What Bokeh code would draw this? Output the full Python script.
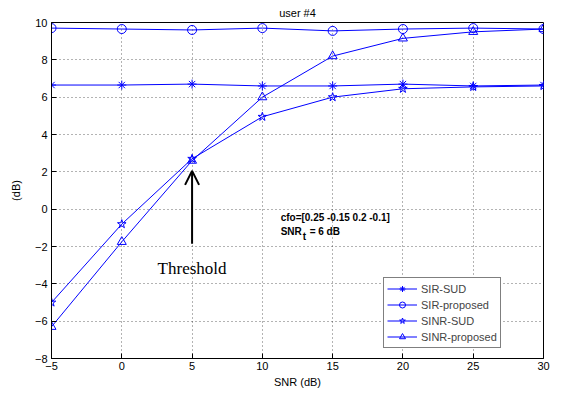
from bokeh.plotting import figure
from bokeh.models import FixedTicker, Legend, LegendItem, Label, Arrow, OpenHead, Range1d
from bokeh.embed import file_html
from bokeh.resources import INLINE

snr = [-5, 0, 5, 10, 15, 20, 25, 30]
sir_sud = [6.65, 6.65, 6.7, 6.6, 6.6, 6.7, 6.6, 6.65]
sir_proposed = [9.7, 9.65, 9.6, 9.7, 9.55, 9.65, 9.7, 9.65]
sinr_sud = [-5.0, -0.8, 2.7, 4.95, 6.0, 6.45, 6.55, 6.6]
sinr_proposed = [-6.3, -1.75, 2.6, 6.0, 8.2, 9.15, 9.5, 9.65]
series_names = ["SIR-SUD", "SIR-proposed", "SINR-SUD", "SINR-proposed"]
x_ticks = [-5, 0, 5, 10, 15, 20, 25, 30]
y_ticks = [-8, -6, -4, -2, 0, 2, 4, 6, 8, 10]

FONT = "Liberation Sans"

p = figure(width=566, height=397, output_backend="svg", toolbar_location=None,
           x_range=Range1d(-5, 30), y_range=Range1d(-8, 10),
           min_border_left=51, min_border_right=23, min_border_bottom=39, min_border_top=5)
p.title.text = "user #4"
p.title.align = "center"
p.title.text_font = FONT
p.title.text_font_size = "11px"
p.title.text_font_style = "normal"
p.title.text_color = "black"
p.title.standoff = 8

for ax in (p.xaxis[0], p.yaxis[0]):
    ax.axis_line_color = "black"
    ax.major_tick_in = 5
    ax.major_tick_out = 0
    ax.minor_tick_line_color = None
    ax.major_tick_line_color = "black"
    ax.major_label_text_font = FONT
    ax.major_label_text_font_size = "11px"
    ax.major_label_text_color = "black"
    ax.axis_label_text_font = FONT
    ax.axis_label_text_font_size = "11px"
    ax.axis_label_text_font_style = "normal"
    ax.axis_label_text_color = "black"

p.xaxis.ticker = FixedTicker(ticks=x_ticks)
p.yaxis.ticker = FixedTicker(ticks=y_ticks)
p.xaxis.axis_label = "SNR (dB)"
p.yaxis.axis_label = "(dB)"
p.xaxis.major_label_standoff = 3
p.xaxis.axis_label_standoff = 3
p.yaxis.major_label_standoff = 4
p.yaxis.axis_label_standoff = 10

p.grid.grid_line_color = "black"
p.grid.grid_line_alpha = 0.6
p.grid.grid_line_dash = "1 3"
p.outline_line_color = "black"
p.outline_line_alpha = 1
p.background_fill_color = "white"
p.border_fill_color = "white"

color = "#0000ff"
markers = ["asterisk", "circle", "star", "triangle"]
data = [sir_sud, sir_proposed, sinr_sud, sinr_proposed]
items = []
for name, ys, m in zip(series_names, data, markers):
    l = p.line(snr, ys, line_color=color, line_width=1)
    s = p.scatter(snr, ys, marker=m, size=9, line_color=color, fill_color=None, line_width=1)
    items.append(LegendItem(label=name, renderers=[l, s]))

legend = Legend(items=items, location=(332, 10), border_line_color="black",
                label_text_font=FONT, label_text_font_size="11px",
                glyph_width=30, glyph_height=15, label_height=15, spacing=1,
                padding=3, margin=0, label_standoff=4, background_fill_alpha=1)
p.add_layout(legend, "center")

p.add_layout(Arrow(end=OpenHead(size=14, line_width=2, line_color="black"),
                   x_start=5, y_start=-1.85, x_end=5, y_end=2.05,
                   line_width=2, line_color="black"))
p.add_layout(Label(x=5, y=-3.2, text="Threshold", text_font="Liberation Serif",
                   text_font_size="17px", text_align="center", text_baseline="middle",
                   text_color="black"))
TX = 11.3
p.add_layout(Label(x=TX, y=-0.45, text="cfo=[0.25 -0.15 0.2 -0.1]", text_font=FONT,
                   text_font_size="10px", text_font_style="bold", text_baseline="middle",
                   text_color="black"))
p.add_layout(Label(x=TX, y=-1.2, text="SNR", text_font=FONT,
                   text_font_size="10px", text_font_style="bold", text_baseline="middle",
                   text_color="black"))
p.add_layout(Label(x=TX, y=-1.2, x_offset=22, y_offset=-5, text="t", text_font=FONT,
                   text_font_size="10px", text_font_style="bold", text_baseline="middle",
                   text_color="black"))
p.add_layout(Label(x=TX, y=-1.2, x_offset=29, text="= 6 dB", text_font=FONT,
                   text_font_size="10px", text_font_style="bold", text_baseline="middle",
                   text_color="black"))

open("out.html", "w").write(file_html(p, INLINE))
